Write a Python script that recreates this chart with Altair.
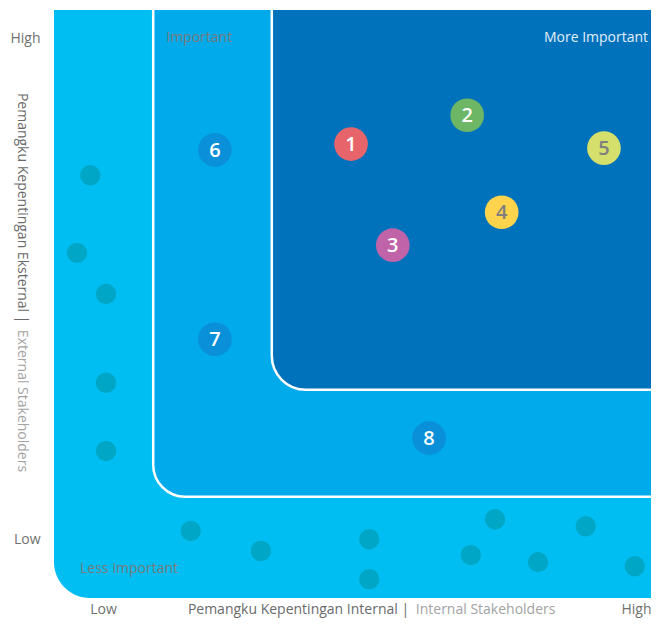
import altair as alt
import pandas as pd

# ---- data (in a 0-10 importance space) ----
issue_ids = ["1", "2", "3", "4", "5", "6", "7", "8"]
issue_x = [4.91, 6.83, 5.60, 7.40, 9.09, 2.66, 2.66, 6.20]
issue_y = [7.72, 8.21, 6.00, 6.56, 7.65, 7.62, 4.40, 2.72]
issue_fill = ["#E8646B", "#6CB665", "#C063A9", "#FDD44B", "#D4DF6C", "#0A90D8", "#0A90D8", "#0A90D8"]
issue_text = ["#FFFFFF", "#FFFFFF", "#FFFFFF", "#7F7F7F", "#7F7F7F", "#FFFFFF", "#FFFFFF", "#FFFFFF"]

dot_x = [0.60, 0.38, 0.86, 0.86, 0.86, 2.26, 3.42, 5.21, 5.21, 7.29, 6.89, 8.00, 8.79, 9.60]
dot_y = [7.19, 5.87, 5.17, 3.66, 2.50, 1.14, 0.80, 1.00, 0.32, 1.34, 0.73, 0.61, 1.22, 0.54]

zone_names = ["Less Important", "Important", "More Important"]
zone_x = [0.0, 1.64, 3.60]
zone_y = [0.0, 1.72, 3.54]
zone_fill = ["#00BEF2", "#00AAEB", "#0072BC"]

zone_label_x = [0.43, 2.40, 9.82]
zone_label_y = [0.49, 9.52, 9.52]
zone_label_color = ["#7A7A7A", "#7A7A7A", "#E3EFF9"]
zone_label_align = ["left", "center", "right"]

axis_low_high = ["Low", "High"]
x_tick_vals = [0.81, 9.62]
y_tick_vals = [0.99, 9.52]

x_title_main = "Pemangku Kepentingan Internal |"
x_title_sub = "Internal Stakeholders"
y_title_main = "Pemangku Kepentingan Eksternal |"
y_title_sub = "External Stakeholders"

FONT = "Open Sans"
X_MAX = 9.868  # the visible right edge of the matrix

xs = alt.Scale(domain=[0, X_MAX], nice=False, zero=False)
ys = alt.Scale(domain=[0, 10], nice=False, zero=False)

label_expr = "datum.value < 5 ? '%s' : '%s'" % (axis_low_high[0], axis_low_high[1])
x_axis = alt.Axis(values=x_tick_vals, labelExpr=label_expr,
                  domain=False, ticks=False, grid=False, labelPadding=4, labelFlush=False,
                  labelFont=FONT, labelFontSize=14, labelColor="#707070", title=None)
y_axis = alt.Axis(values=y_tick_vals, labelExpr=label_expr,
                  domain=False, ticks=False, grid=False, labelPadding=14,
                  labelFont=FONT, labelFontSize=14, labelColor="#707070", title=None)


def X(field="x"):
    return alt.X(field + ":Q", scale=xs, axis=x_axis)


def Y(field="y"):
    return alt.Y(field + ":Q", scale=ys, axis=y_axis)


# ---- zones ----
def zone(i, radius, stroke, right, top):
    df = pd.DataFrame({"x": [zone_x[i]], "x2": [right], "y": [zone_y[i]], "y2": [top]})
    kw = dict(fill=zone_fill[i], cornerRadiusBottomLeft=radius, clip=True)
    if stroke:
        kw.update(stroke="white", strokeWidth=2.5)
    return alt.Chart(df).mark_rect(**kw).encode(x=X(), x2="x2:Q", y=Y(), y2="y2:Q")


outer = zone(0, 36, False, X_MAX, 10.0)
middle = zone(1, 32, True, X_MAX + 0.3, 10.3)
inner = zone(2, 34, True, X_MAX + 0.3, 10.3)

# ---- zone labels ----
zl = pd.DataFrame({"x": zone_label_x, "y": zone_label_y, "t": zone_names,
                   "c": zone_label_color, "a": zone_label_align})
zone_labels = []
for a in ["left", "center", "right"]:
    sub = zl[zl["a"] == a]
    zone_labels.append(
        alt.Chart(sub).mark_text(align=a, baseline="middle", font=FONT, fontSize=14).encode(
            x=X(), y=Y(), text="t:N", color=alt.Color("c:N", scale=None),
        )
    )

# ---- small dots ----
dots = alt.Chart(pd.DataFrame({"x": dot_x, "y": dot_y})).mark_circle(
    size=415, color="#00A6C5", opacity=1
).encode(x=X(), y=Y())

# ---- numbered issues ----
iss = pd.DataFrame({"x": issue_x, "y": issue_y, "id": issue_ids, "f": issue_fill, "tc": issue_text})
bubbles = alt.Chart(iss).mark_circle(size=1134, opacity=1).encode(
    x=X(), y=Y(), color=alt.Color("f:N", scale=None),
)
numbers = alt.Chart(iss).mark_text(font=FONT, fontSize=20, fontWeight=600,
                                   align="center", baseline="middle", dy=1).encode(
    x=X(), y=Y(), text="id:N", color=alt.Color("tc:N", scale=None),
)

# ---- axis titles (two-tone) ----
xt = pd.DataFrame({"x": [5.87, 5.98], "y": [-0.21, -0.21], "t": [x_title_main, x_title_sub],
                   "c": ["#6A6A6A", "#A3A3A3"]})
x_title_a = alt.Chart(xt.iloc[[0]]).mark_text(align="right", baseline="middle", font=FONT,
                                              fontSize=14).encode(
    x=X(), y=Y(), text="t:N", color=alt.Color("c:N", scale=None))
x_title_b = alt.Chart(xt.iloc[[1]]).mark_text(align="left", baseline="middle", font=FONT,
                                              fontSize=14).encode(
    x=X(), y=Y(), text="t:N", color=alt.Color("c:N", scale=None))

yt = pd.DataFrame({"x": [-0.53, -0.53], "y": [8.59, 4.56], "t": [y_title_main, y_title_sub],
                   "c": ["#6A6A6A", "#A3A3A3"]})
y_title = alt.Chart(yt).mark_text(align="left", baseline="middle", angle=90, font=FONT,
                                  fontSize=14).encode(
    x=X(), y=Y(), text="t:N", color=alt.Color("c:N", scale=None))

chart = alt.layer(
    outer, middle, inner, *zone_labels, dots, bubbles, numbers, x_title_a, x_title_b, y_title
).properties(
    width=597, height=588,
    padding={"left": 46, "top": 2, "right": 0, "bottom": 20},
    autosize=alt.AutoSizeParams(type="none"),
    background="white",
).configure_view(stroke=None)

chart.save("out.html", embed_options={"renderer": "svg", "actions": False})
